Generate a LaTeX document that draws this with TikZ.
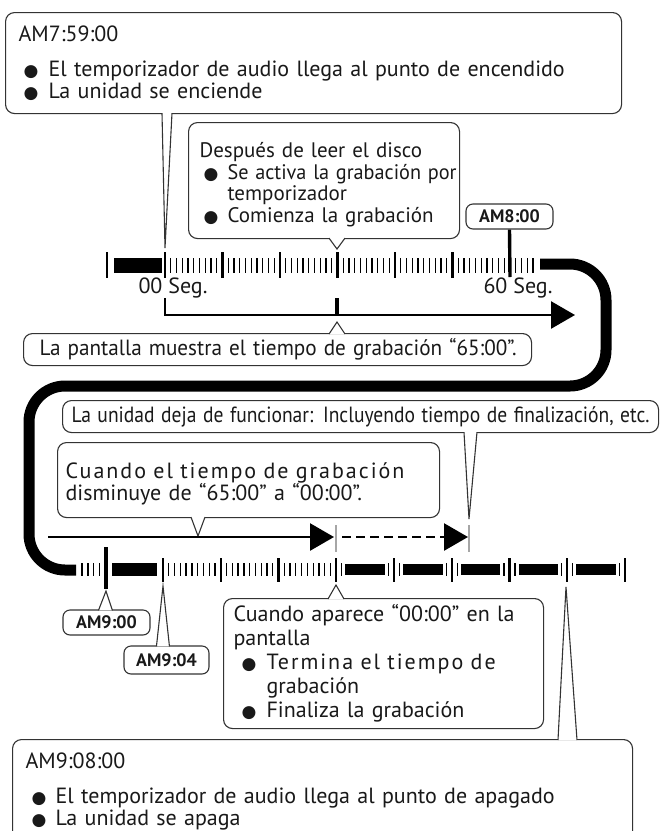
\documentclass[tikz,border=0pt]{standalone}
\usepackage{fontspec}
\usepackage{graphicx}
\setmainfont{PT Sans}
\newfontfamily\symfont{DejaVu Sans}
\usetikzlibrary{arrows.meta, positioning, calc}

\newcommand{\blt}{{\symfont\fontsize{17}{17}\selectfont ●}}
\newcommand{\itm}[2][5pt]{\hspace*{#1}\makebox[#2][l]{\blt}}
\newcommand{\spread}[2]{\makebox[#1][s]{\addfontfeature{LetterSpace=9}#2}}
\newcommand{\fitto}[2]{\resizebox{#1}{\height}{#2}}
\newcommand{\toppad}{\rule{0pt}{23pt}}

\begin{document}
\begin{tikzpicture}[x=1pt, y=-1pt,
        every node/.style={font=\fontsize{22}{22}\selectfont, inner sep=0pt, text=black!90},
        callout/.style={draw=black!80, line width=1.1pt, rounded corners=9pt, fill=white, anchor=north west, align=left},
        tag/.style={draw=black!80, line width=1.1pt, rounded corners=7pt, fill=white, font=\bfseries\fontsize{18}{18}\selectfont},
        ptr/.style={draw=black!80, line width=1.1pt, fill=white},
        major/.style={line width=2.2pt},
        minor/.style={line width=1.3pt},
        marker/.style={line width=3.4pt},
        flow/.style={line width=2.6pt, -{Triangle[length=24pt, width=27pt]}},
        guide/.style={gray!70, line width=2pt},
        track/.style={line width=11pt, rounded corners=36pt}
    ]
    \useasboundingbox (0,0) rectangle (662,831);
%
    % Pista gruesa entre las dos lineas de tiempo
    \draw[track] (540,264) -- (606,264) -- (606,386) -- (29,386) -- (29,570) -- (76,570);
%
    % Linea de tiempo superior
    \draw[major] (107,252) -- ++(0,26);
    \fill (114,258) rectangle (162,273);
    \foreach \k in {0,...,5} {
        \draw[major] ({165+57.5*\k},252) -- ++(0,26);
        \foreach \j in {1,...,9}
            \draw[minor] ({165+57.5*\k+5.75*\j},258) -- ++(0,15);
    }
    \foreach \j in {1,...,4}
        \draw[minor] ({510+5.75*\j},258) -- ++(0,15);
    \node (s00) at (173,288) {00 Seg.};
    \node (s60) at (518,288) {60 Seg.};
%
    % AM8:00
    \node[tag, minimum width=87pt, minimum height=25pt] (am800) at (509.5,216.5) {AM8:00};
    \coordinate (t800) at (510,277);
    \draw[marker] (am800.south) -- (t800);
%
    % Flecha superior
    \coordinate (r0) at (165,298);
    \coordinate (r1) at (575,315);
    \coordinate (m0) at (337,298);
    \coordinate (m1) at (337,315);
    \draw[flow] (r0) |- (r1);
    \draw[marker] (m0) -- (m1);
%
    % Encendido
    \node[callout, text width=590pt, inner xsep=13pt, minimum height=101pt] (on) at (5,12)
        {AM7:59:00\\[13pt]
         \itm{25pt}El temporizador de audio llega al punto de encendido\\
         \itm{25pt}La unidad se enciende};
    \coordinate (pon) at (165,248);
    \draw[ptr] ($(on.south west)+(157,-1)$) -- (pon) -- ($(on.south west)+(167,-1)$);
%
    % Lectura del disco
    \node[callout, text width=249pt, inner xsep=11pt, minimum height=116pt, font=\fontsize{21}{21.5}\selectfont] (disc) at (188,122)
        {\toppad Después de leer el disco\\
         \itm[4pt]{24pt}\fitto{229pt}{Se activa la grabación por}\\
         \hspace*{28pt}temporizador\\
         \itm[4pt]{24pt}Comienza la grabación};
    \coordinate (pdisc) at (337,249);
    \draw[ptr] ($(disc.south west)+(141,-1)$) -- (pdisc) -- ($(disc.south west)+(157,-1)$);
%
    % Pantalla 65:00
    \node[callout, text width=476pt, inner xsep=16pt, minimum height=32pt] (show) at (23,333)
        {\fitto{477pt}{La pantalla muestra el tiempo de grabación “65:00”.}};
    \coordinate (pshow) at (337,322);
    \draw[ptr] ($(show.north west)+(306,1)$) -- (pshow) -- ($(show.north west)+(322,1)$);
%
    % Fin de funcionamiento
    \node[callout, text width=578pt, inner xsep=9pt, minimum height=32pt] (halt) at (62,400)
        {\fitto{578pt}{La unidad deja de funcionar: Incluyendo tiempo de finalización, etc.}};
    \coordinate (phalt) at (469,519);
    \draw[ptr] ($(halt.south west)+(402,-1)$) -- (phalt) -- ($(halt.south west)+(415,-1)$);
%
    % Cuenta regresiva
    \node[callout, text width=366pt, inner xsep=8pt, minimum height=75pt] (count) at (57,442)
        {\toppad\spread{365pt}{Cuando el tiempo de grabación}\\
         disminuye de “65:00” a “00:00”.};
    \coordinate (pcount) at (198,536);
    \draw[ptr] ($(count.south west)+(134,-1)$) -- (pcount) -- ($(count.south west)+(148,-1)$);
%
    % Flechas inferiores
    \coordinate (d0) at (48,537);
    \coordinate (d1) at (334,537);
    \coordinate (d2) at (342,537);
    \coordinate (d3) at (468,537);
    \draw[flow] (d0) -- (d1);
    \draw[guide] (336,525) -- ++(0,27);
    \draw[flow, dash pattern=on 9pt off 5pt] (d2) -- (d3);
    \draw[guide] (469,525) -- ++(0,27);
%
    % Linea de tiempo inferior
    \foreach \j in {0,...,3}
        \draw[minor] ({82+5.9*\j},563) -- ++(0,13);
    \fill (112,563) rectangle (157,576);
    \foreach \k in {0,...,8}
        \draw[major] ({163+57.75*\k},558) -- ++(0,24);
    \foreach \k in {0,1,2}
        \foreach \j in {1,...,9}
            \draw[minor] ({163+57.75*\k+5.775*\j},563) -- ++(0,13);
    \foreach \k in {3,...,7} {
        \draw[minor] ({163+57.75*\k+5.5},563) -- ++(0,13);
        \fill ({163+57.75*\k+9},564) rectangle ({163+57.75*\k+48.5},575);
        \draw[minor] ({163+57.75*\k+52.25},563) -- ++(0,13);
    }
    \coordinate (t900) at (106,547);
    \draw[marker] (t900) -- ++(0,42);
%
    % AM9:00 y AM9:04
    \node[tag, minimum width=87pt, minimum height=25pt] (am900) at (106.5,622.5) {AM9:00};
    \coordinate (p900) at (106,591);
    \draw[ptr] ($(am900.north west)+(36,1)$) -- (p900) -- ($(am900.north west)+(50,1)$);
    \node[tag, minimum width=85pt, minimum height=28pt] (am904) at (166.5,660) {AM9:04};
    \coordinate (p904) at (163,586);
    \draw[ptr] ($(am904.north west)+(33,1)$) -- (p904) -- ($(am904.north west)+(46,1)$);
%
    % Aparece 00:00
    \node[callout, text width=300pt, inner xsep=10pt, minimum height=130pt, font=\fontsize{22}{24}\selectfont] (zero) at (223,598)
        {\makebox[300pt][s]{Cuando aparece “00:00” en la}\\
         pantalla\\
         \itm[8pt]{25pt}\spread{269pt}{Termina el tiempo de}\\
         \hspace*{33pt}grabación\\
         \itm[8pt]{25pt}Finaliza la grabación};
    \coordinate (pzero) at (336,585);
    \draw[ptr] ($(zero.north west)+(105,1)$) -- (pzero) -- ($(zero.north west)+(121,1)$);
%
    % Apagado
    \node[callout, text width=594pt, inner xsep=13pt, minimum height=104pt] (off) at (12,739)
        {AM9:08:00\\[13pt]
         \itm[6pt]{24pt}El temporizador de audio llega al punto de apagado\\
         \itm[6pt]{24pt}La unidad se apaga};
    \coordinate (poff) at (566,587);
    \draw[ptr] ($(off.north west)+(546,1)$) -- (poff) -- ($(off.north west)+(565,1)$);
%
\end{tikzpicture}
\end{document}
